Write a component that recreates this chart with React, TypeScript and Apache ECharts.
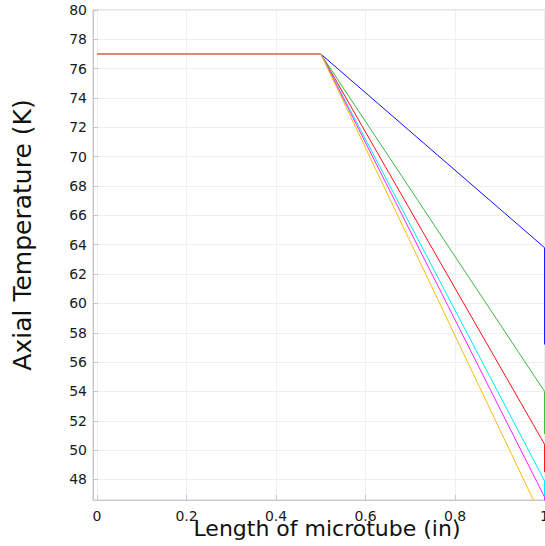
import React, { useEffect, useRef } from "react";
import * as echarts from "echarts";

const seriesNames = ["blue", "green", "red", "cyan", "magenta", "yellow"];
const seriesColors = ["#1010ff", "#3cb83c", "#ff1010", "#00e8ff", "#ff20ff", "#ffbb10"];
const startX = [0, 0.5];
const startTemp = 77;
const endTemps = [63.8, 54.0, 50.4, 47.9, 46.8, 45.0];
const dropTemps = [57.2, 51.1, 48.5, 45.5, 45.0, 44.5];
const xTicks = [0, 0.2, 0.4, 0.6, 0.8, 1];
const yTicks = [48, 50, 52, 54, 56, 58, 60, 62, 64, 66, 68, 70, 72, 74, 76, 78, 80];

export default function App() {
  const ref = useRef<HTMLDivElement>(null);
  useEffect(() => {
    if (!ref.current) return;
    const chart = echarts.init(ref.current, undefined, { renderer: "svg" });
    const series = seriesNames.map((n, i) => ({
      name: n,
      type: "line",
      showSymbol: false,
      symbol: "none",
      clip: true,
      lineStyle: { color: seriesColors[i], width: 1 },
      data: [
        [startX[0], startTemp],
        [startX[1], startTemp],
        [1, endTemps[i]],
        [1, dropTemps[i]],
      ],
    }));
    const axisColor = "#c8c8c8";
    chart.setOption({
      animation: false,
      grid: {
        left: 93,
        right: 0,
        top: 10,
        bottom: 46,
        show: true,
        borderColor: axisColor,
        borderWidth: 1,
        outerBoundsMode: "none",
        containLabel: false,
      },
      xAxis: {
        type: "value",
        min: -0.009,
        max: 1.001,
        axisLine: { show: true, onZero: false, lineStyle: { color: axisColor } },
        axisTick: { show: true, inside: true, length: 5, customValues: xTicks, lineStyle: { color: axisColor } },
        axisLabel: {
          customValues: xTicks,
          color: "#1a1a1a",
          fontSize: 14,
          fontFamily: "DejaVu Sans",
          margin: 9,
          hideOverlap: false,
          formatter: (v: number) => String(Math.round(v * 10) / 10),
        },
        splitLine: { show: true, lineStyle: { color: "#f0f0f0" } },
      },
      yAxis: {
        type: "value",
        min: 46.6,
        max: 80,
        axisLine: { show: true, onZero: false, lineStyle: { color: axisColor } },
        axisTick: { show: true, inside: true, length: 5, customValues: yTicks, lineStyle: { color: axisColor } },
        axisLabel: {
          customValues: yTicks,
          color: "#1a1a1a",
          fontSize: 14,
          fontFamily: "DejaVu Sans",
          margin: 6,
        },
        splitLine: { show: true, lineStyle: { color: "#f0f0f0" } },
      },
      series,
      graphic: [
        {
          type: "text",
          x: 327,
          y: 528,
          style: {
            text: "Length of microtube (in)",
            fontSize: 22,
            fontFamily: "DejaVu Sans",
            fill: "#111",
            textAlign: "center",
            textVerticalAlign: "middle",
          },
        },
        {
          type: "text",
          x: 22,
          y: 235,
          rotation: Math.PI / 2,
          style: {
            text: "Axial Temperature (K)",
            fontSize: 25,
            fontFamily: "DejaVu Sans",
            fill: "#111",
            textAlign: "center",
            textVerticalAlign: "middle",
          },
        },
      ],
    });
    return () => chart.dispose();
  }, []);
  return <div ref={ref} style={{ width: 545, height: 546, position: "absolute", left: 0, top: 0 }} />;
}
